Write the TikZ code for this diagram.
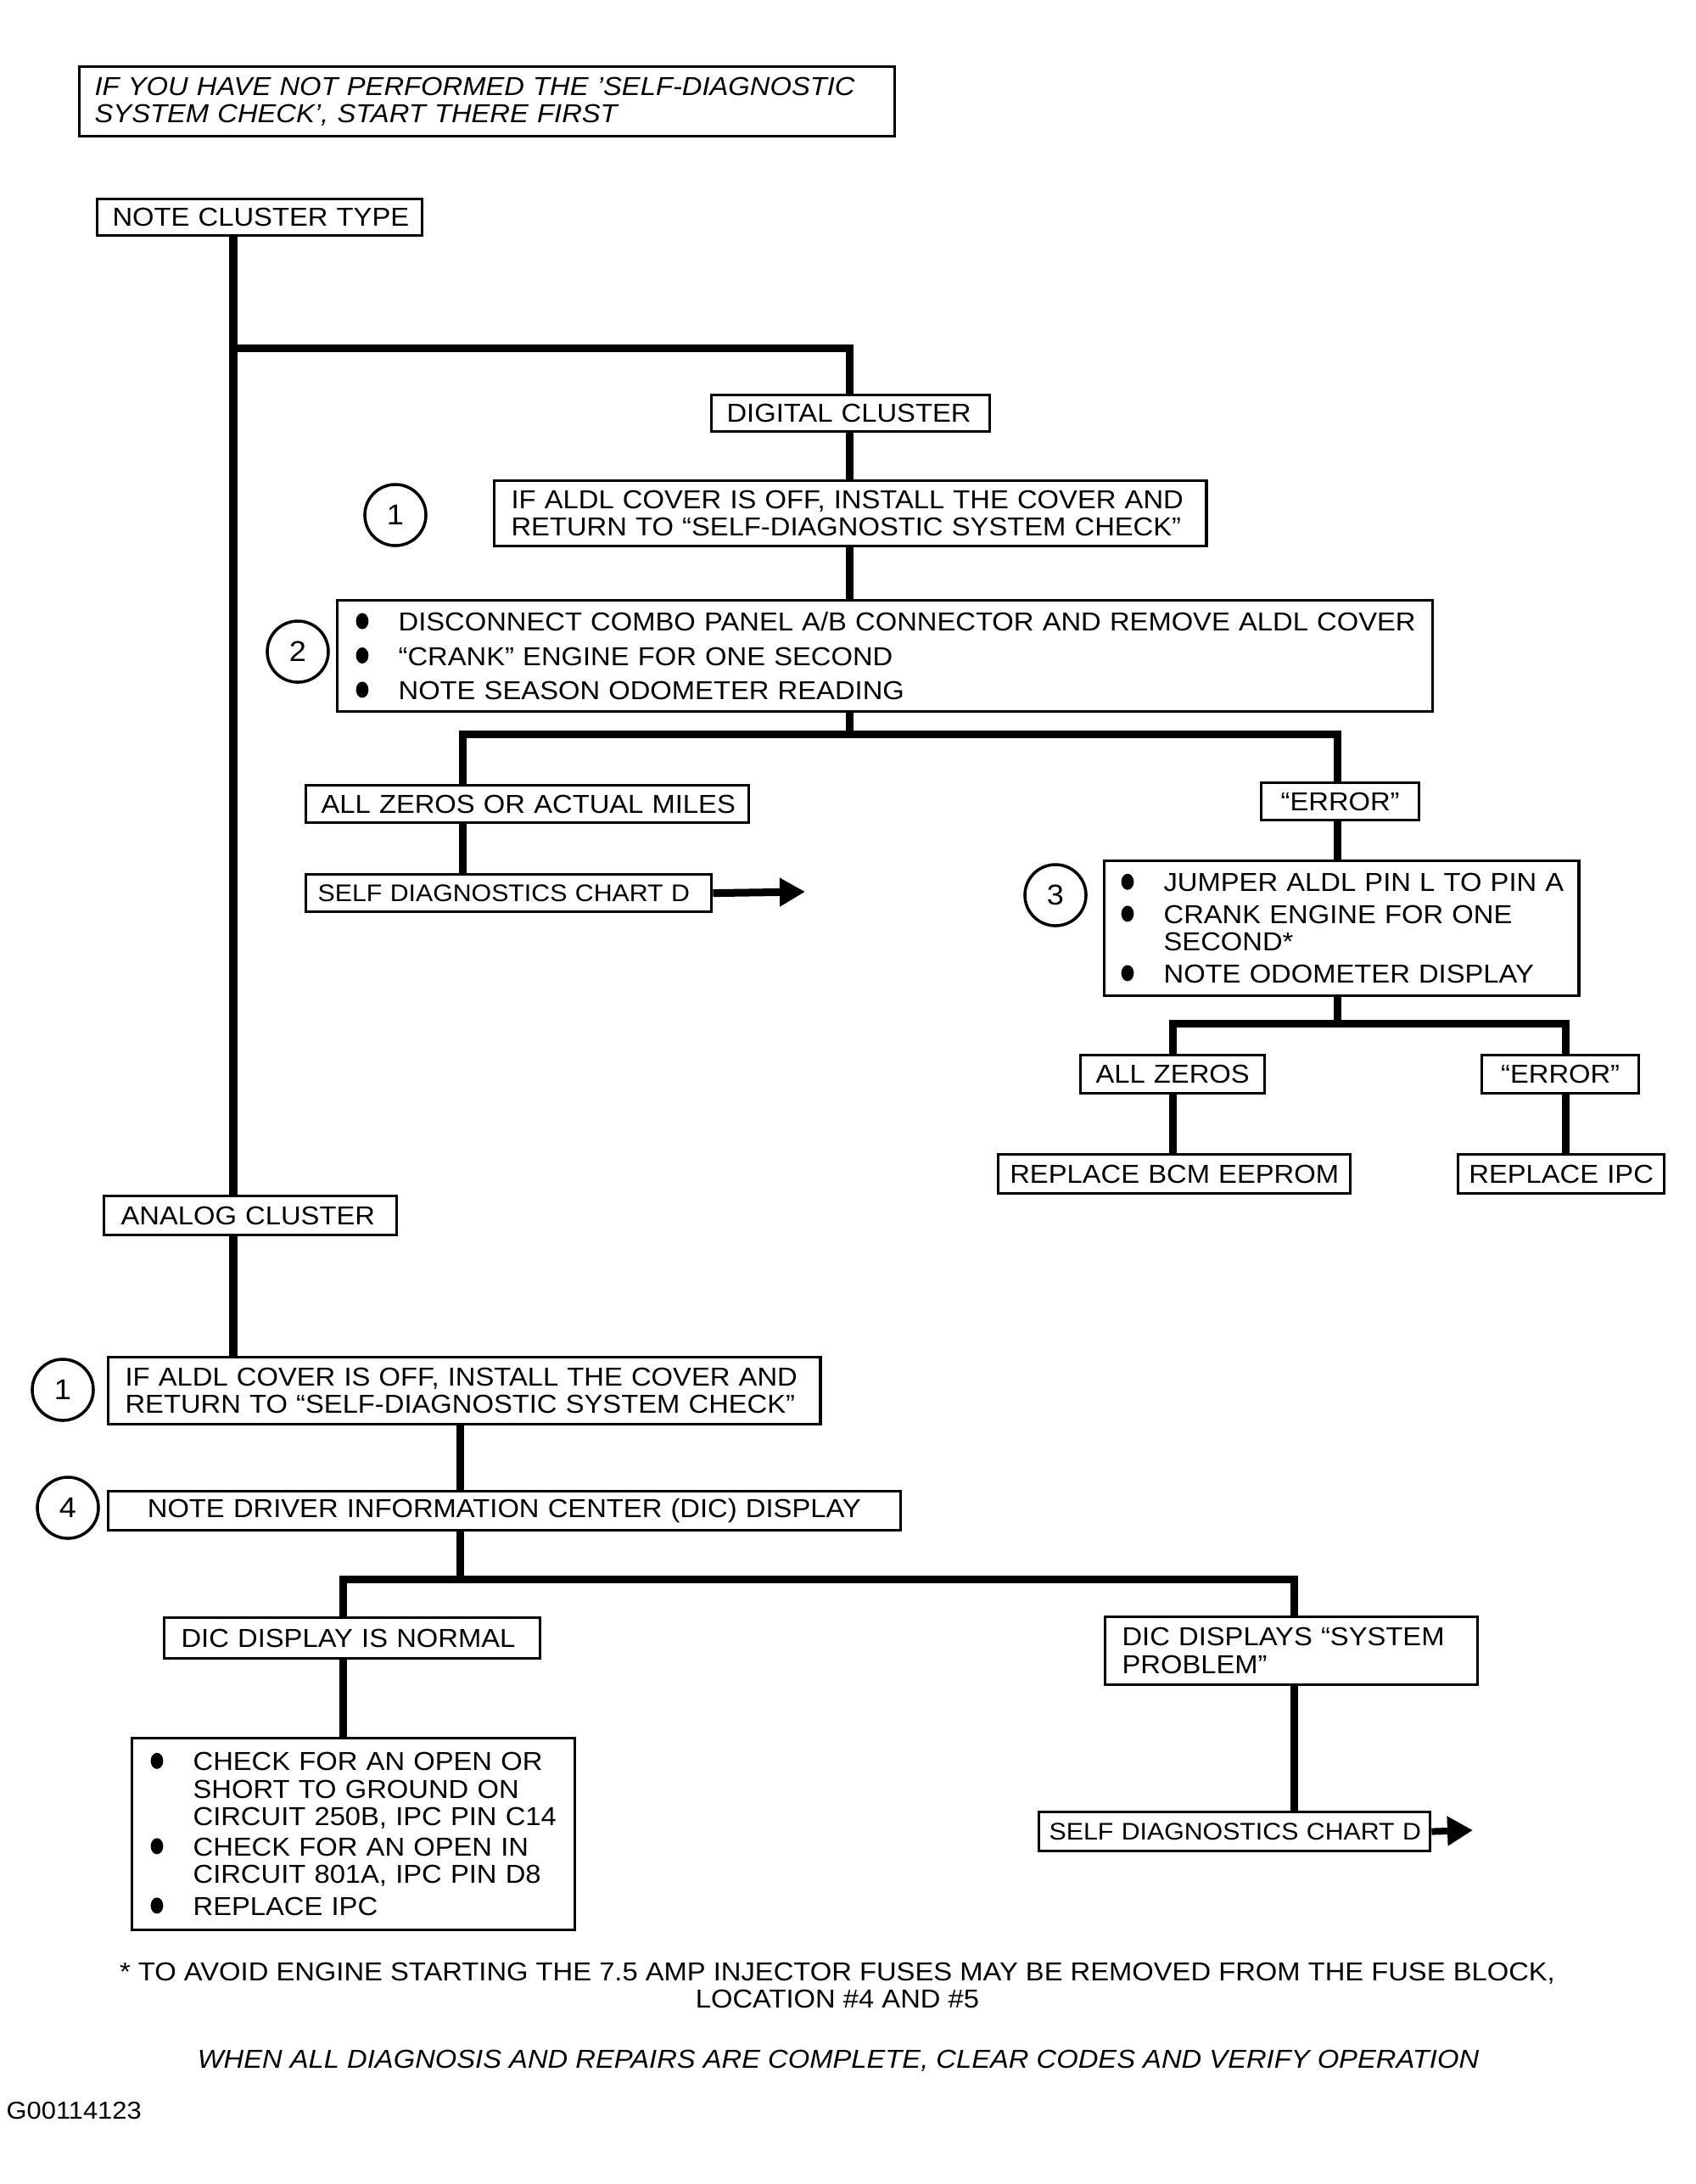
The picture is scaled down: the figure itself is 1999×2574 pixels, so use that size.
\documentclass[tikz,border=0pt]{standalone}
\usepackage{fontspec}
\setmainfont{Liberation Sans}[FakeStretch=1.07]
\usetikzlibrary{arrows.meta}
\newcommand\fs{\fontsize{8.7}{9.2}\selectfont}
\newcommand\fss{\fontsize{8.05}{9.2}\selectfont}
\newcommand\bl{\makebox[0.52cm][l]{\hspace*{0.02cm}\tikz[baseline=0pt]\fill (2.1pt,3.3pt) ellipse [x radius=2.1pt, y radius=2.7pt];}}
\newcommand\ind{\hspace*{0.52cm}}
\begin{document}
\begin{tikzpicture}[x=0.01cm, y=-0.01cm, line join=miter,
  box/.style={draw, line width=0.9pt, anchor=north west, inner ysep=0pt, align=left, font=\fs},
  cbox/.style={box, align=center},
  num/.style={draw, circle, line width=1pt, minimum size=0.72cm, inner sep=0pt, font=\fontsize{9.6}{10}\selectfont},
  conn/.style={line width=0.09cm},
  plain/.style={font=\fs, inner sep=0pt}]
\fill[white] (0,0) rectangle (1999,2574);
\useasboundingbox (0,0) rectangle (1999,2574);

% boxes
\node[box, font=\fs\itshape, minimum width=9.6cm, minimum height=0.82cm, inner xsep=0.18cm, text width=9.24cm] (note) at (92,77)
  {\mbox{IF YOU HAVE NOT PERFORMED THE 'SELF-DIAGNOSTIC}\\\mbox{SYSTEM CHECK', START THERE FIRST}};
\node[box, minimum width=3.83cm, minimum height=0.43cm, inner xsep=0.18cm, text width=3.47cm] (nct) at (113,233) {\mbox{NOTE CLUSTER TYPE}};
\node[box, minimum width=3.28cm, minimum height=0.43cm, inner xsep=0.18cm, text width=2.92cm] (dig) at (837,464) {\mbox{DIGITAL CLUSTER}};
\node[box, minimum width=8.39cm, minimum height=0.77cm, inner xsep=0.2cm, text width=7.99cm] (ald1) at (581,565)
  {\mbox{IF ALDL COVER IS OFF, INSTALL THE COVER AND}\\\mbox{RETURN TO “SELF-DIAGNOSTIC SYSTEM CHECK”}};
\node[box, minimum width=12.9cm, minimum height=1.31cm, inner xsep=0.2cm, text width=12.5cm] (b2) at (396,706)
  {\mbox{\bl DISCONNECT COMBO PANEL A/B CONNECTOR AND REMOVE ALDL COVER}\\[2.3pt]
   \mbox{\bl “CRANK” ENGINE FOR ONE SECOND}\\[2.3pt]
   \mbox{\bl NOTE SEASON ODOMETER READING}};
\node[box, minimum width=5.22cm, minimum height=0.44cm, inner xsep=0.18cm, text width=4.86cm] (azam) at (359,924) {\mbox{ALL ZEROS OR ACTUAL MILES}};
\node[box, font=\fss, minimum width=4.78cm, minimum height=0.44cm, inner xsep=0.14cm, text width=4.5cm] (sdc1) at (359,1029) {\mbox{SELF DIAGNOSTICS CHART D}};
\node[cbox, minimum width=1.86cm, minimum height=0.44cm, inner xsep=0.1cm, text width=1.66cm] (err1) at (1485,921) {\mbox{“ERROR”}};
\node[box, minimum width=5.59cm, minimum height=1.59cm, inner xsep=0.18cm, text width=5.23cm] (b3) at (1300,1013)
  {\mbox{\bl JUMPER ALDL PIN L TO PIN A}\\[1.5pt]
   \mbox{\bl CRANK ENGINE FOR ONE}\\
   \mbox{\ind SECOND*}\\[1.5pt]
   \mbox{\bl NOTE ODOMETER DISPLAY}};
\node[cbox, minimum width=2.17cm, minimum height=0.45cm, inner xsep=0.1cm, text width=1.97cm] (az) at (1272,1242) {\mbox{ALL ZEROS}};
\node[cbox, minimum width=1.85cm, minimum height=0.45cm, inner xsep=0.1cm, text width=1.65cm] (err2) at (1745,1242) {\mbox{“ERROR”}};
\node[cbox, minimum width=4.15cm, minimum height=0.46cm, inner xsep=0.1cm, text width=3.95cm] (bcm) at (1175,1359) {\mbox{REPLACE BCM EEPROM}};
\node[cbox, minimum width=2.43cm, minimum height=0.46cm, inner xsep=0.1cm, text width=2.23cm] (ipc) at (1717,1359) {\mbox{REPLACE IPC}};
\node[box, minimum width=3.45cm, minimum height=0.46cm, inner xsep=0.2cm, text width=3.05cm] (ana) at (121,1408) {\mbox{ANALOG CLUSTER}};
\node[box, minimum width=8.39cm, minimum height=0.79cm, inner xsep=0.2cm, text width=7.99cm] (ald2) at (126,1598)
  {\mbox{IF ALDL COVER IS OFF, INSTALL THE COVER AND}\\\mbox{RETURN TO “SELF-DIAGNOSTIC SYSTEM CHECK”}};
\node[cbox, minimum width=9.33cm, minimum height=0.46cm, inner xsep=0.1cm, text width=9.13cm] (dic) at (126,1756) {\mbox{NOTE DRIVER INFORMATION CENTER (DIC) DISPLAY}};
\node[box, minimum width=4.43cm, minimum height=0.48cm, inner xsep=0.2cm, text width=4.03cm] (norm) at (192,1905) {\mbox{DIC DISPLAY IS NORMAL}};
\node[box, minimum width=4.39cm, minimum height=0.8cm, inner xsep=0.2cm, text width=3.99cm] (sysp) at (1301,1904) {\mbox{DIC DISPLAYS “SYSTEM}\\\mbox{PROBLEM”}};
\node[box, minimum width=5.22cm, minimum height=2.26cm, inner xsep=0.2cm, text width=4.82cm] (chk) at (154,2047)
  {\mbox{\bl CHECK FOR AN OPEN OR}\\
   \mbox{\ind SHORT TO GROUND ON}\\
   \mbox{\ind CIRCUIT 250B, IPC PIN C14}\\[1pt]
   \mbox{\bl CHECK FOR AN OPEN IN}\\
   \mbox{\ind CIRCUIT 801A, IPC PIN D8}\\[1.5pt]
   \mbox{\bl REPLACE IPC}};
\node[box, font=\fss, minimum width=4.61cm, minimum height=0.46cm, inner xsep=0.12cm, text width=4.37cm] (sdc2) at (1223,2134) {\mbox{SELF DIAGNOSTICS CHART D}};

% step numbers
\node[num] (n1a) at (466,607) {1};
\node[num] (n2) at (351,768) {2};
\node[num] (n3) at (1244,1055) {3};
\node[num] (n1b) at (74,1638) {1};
\node[num] (n4) at (80,1777) {4};

% free texts
\node[plain, align=center] (foot) at (987,2340)
  {* TO AVOID ENGINE STARTING THE 7.5 AMP INJECTOR FUSES MAY BE REMOVED FROM THE FUSE BLOCK,\\LOCATION \#4 AND \#5};
\node[plain, font=\fs\itshape] (done) at (988,2429) {WHEN ALL DIAGNOSIS AND REPAIRS ARE COMPLETE, CLEAR CODES AND VERIFY OPERATION};
\node[plain, font=\fontsize{8.2}{9}\selectfont, anchor=west] (gid) at (7,2488) {G00114123};

% connector coordinates
\coordinate (tx) at (275,0);
\coordinate (j1) at (275,410);
\coordinate (x2) at (1001,0);
\coordinate (j2) at (1001,865);
\coordinate (h2a) at (545,865);
\coordinate (h2b) at (1576,865);
\coordinate (j3) at (1576,1206);
\coordinate (h3a) at (1382,1206);
\coordinate (h3b) at (1845,1206);
\coordinate (x5) at (542,0);
\coordinate (j4) at (542,1861);
\coordinate (h4a) at (404,1861);
\coordinate (h4b) at (1525,1861);
\coordinate (ar1) at (949,1051);
\coordinate (ar2) at (1736,2157);

% connectors
\draw[conn] (nct.south -| tx) -- (ana.north -| tx);
\draw[conn] (j1) -| (dig.north -| x2);
\draw[conn] (dig.south -| x2) -- (ald1.north -| x2);
\draw[conn] (ald1.south -| x2) -- (b2.north -| x2);
\draw[conn] (b2.south -| x2) -- (j2);
\draw[conn] (azam.north -| h2a) |- (h2b) -- (err1.north -| h2b);
\draw[conn] (azam.south -| h2a) -- (sdc1.north -| h2a);
\draw[conn] (err1.south -| h2b) -- (b3.north -| h2b);
\draw[conn] (b3.south -| h2b) -- (j3);
\draw[conn] (az.north -| h3a) |- (h3b) -- (err2.north -| h3b);
\draw[conn] (az.south -| h3a) -- (bcm.north -| h3a);
\draw[conn] (err2.south -| h3b) -- (ipc.north -| h3b);
\draw[conn] (ana.south -| tx) -- (ald2.north -| tx);
\draw[conn] (ald2.south -| x5) -- (dic.north -| x5);
\draw[conn] (dic.south -| x5) -- (j4);
\draw[conn] (norm.north -| h4a) |- (h4b) -- (sysp.north -| h4b);
\draw[conn] (norm.south -| h4a) -- (chk.north -| h4a);
\draw[conn] (sysp.south -| h4b) -- (sdc2.north -| h4b);
\draw[conn, -{Triangle[length=0.3cm,width=0.32cm]}] (sdc1.east) -- (ar1);
\draw[conn, line width=0.08cm, -{Triangle[length=0.3cm,width=0.33cm]}] (sdc2.east) -- (ar2);
\end{tikzpicture}
\end{document}
